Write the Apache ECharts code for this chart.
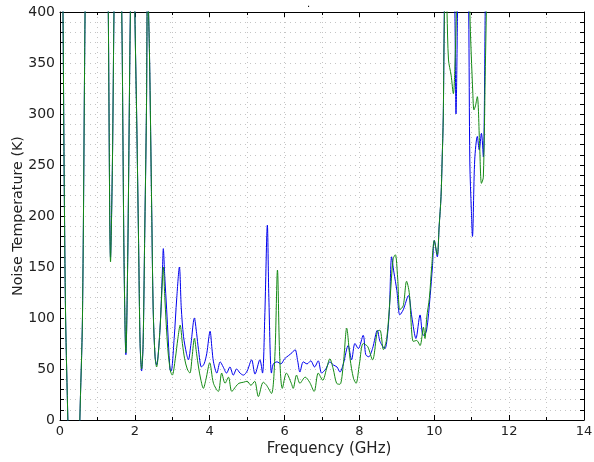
<!DOCTYPE html>
<html>
<head>
<meta charset="utf-8">
<script src="https://cdn.jsdelivr.net/npm/echarts@6/dist/echarts.min.js"></script>
<style>html,body{margin:0;padding:0;background:#fff}#c{width:594px;height:462px}</style>
</head>
<body>
<div id="c"></div>
<script>
// Frequency (GHz) and noise temperature (K)
const blueFreq = [0.00,0.08,0.11,0.15,0.21,0.30,0.45,0.53,0.60,0.67,0.80,1.00,1.20,1.29,1.35,1.40,1.45,1.55,1.65,1.71,1.76,1.81,1.88,1.95,2.00,2.05,2.10,2.14,2.18,2.22,2.26,2.31,2.34,2.39,2.45,2.49,2.54,2.58,2.67,2.74,2.76,2.80,2.85,2.94,2.97,3.05,3.12,3.19,3.24,3.30,3.38,3.43,3.50,3.59,3.65,3.70,3.78,3.85,3.92,4.01,4.06,4.10,4.19,4.28,4.36,4.45,4.54,4.63,4.72,4.81,4.90,5.00,5.12,5.21,5.34,5.41,5.47,5.54,5.58,5.65,5.70,5.80,5.90,6.00,6.10,6.20,6.28,6.35,6.41,6.50,6.60,6.70,6.80,6.90,6.99,7.10,7.21,7.30,7.40,7.48,7.57,7.70,7.79,7.88,7.97,8.10,8.17,8.25,8.35,8.48,8.55,8.68,8.74,8.80,8.86,8.92,9.00,9.08,9.17,9.31,9.40,9.51,9.62,9.70,9.79,9.89,9.95,10.00,10.08,10.13,10.18,10.21,10.24,10.26,10.30,10.40,10.50,10.55,10.58,10.62,10.70,10.85,10.92,10.95,10.99,11.02,11.08,11.15,11.20,11.26,11.31,11.36,11.42];
const blueTemp = [700,400,245,100,0,-150,-150,0,100,400,800,900,700,400,159,250,420,600,400,160,64,160,400,550,400,294,173,75,48,74,173,304,430,360,206,108,62,54,88,150,168,140,108,49,48,80,120,150,110,82,65,59,75,100,85,69,52,55,65,87,70,57,46,57,52,46,52,44,50,46,44,48,59,45,59,46,100,191,120,46,55,57,55,60,63,66,69,58,47,57,55,58,52,58,46,50,57,54,52,47,55,73,59,75,70,83,64,62,70,88,77,70,80,108,160,145,127,103,108,122,101,80,103,83,87,122,150,176,160,190,219,255,297,369,500,600,500,400,300,400,700,600,400,252,206,180,255,278,265,281,258,400,600];

const greenFreq = [0.00,0.08,0.11,0.15,0.21,0.30,0.45,0.53,0.60,0.67,0.80,1.00,1.20,1.29,1.35,1.40,1.45,1.55,1.65,1.71,1.76,1.81,1.88,1.95,2.00,2.05,2.10,2.14,2.18,2.22,2.26,2.31,2.34,2.39,2.45,2.49,2.54,2.58,2.67,2.74,2.76,2.80,2.88,2.95,3.00,3.08,3.15,3.21,3.27,3.33,3.40,3.47,3.53,3.59,3.65,3.70,3.76,3.83,3.90,4.00,4.10,4.23,4.32,4.41,4.50,4.59,4.70,4.78,4.90,5.00,5.10,5.20,5.30,5.43,5.52,5.65,5.74,5.81,5.87,5.94,6.05,6.18,6.23,6.32,6.41,6.55,6.67,6.79,6.90,7.02,7.12,7.21,7.30,7.39,7.48,7.57,7.66,7.75,7.84,7.91,8.00,8.10,8.22,8.35,8.48,8.55,8.64,8.73,8.82,8.90,8.96,9.02,9.08,9.17,9.26,9.33,9.44,9.53,9.62,9.71,9.75,9.80,9.87,9.93,10.00,10.08,10.13,10.18,10.21,10.24,10.26,10.30,10.34,10.38,10.45,10.51,10.55,10.60,10.70,10.85,10.95,11.03,11.06,11.10,11.15,11.21,11.26,11.31,11.36,11.40,11.48];
const greenTemp = [700,400,245,100,0,-150,-150,0,100,400,800,900,700,400,155,250,420,600,400,160,66,160,400,550,400,294,173,75,50,74,173,304,430,360,206,108,62,52,88,140,150,120,70,48,44,60,80,93,75,60,50,46,62,80,65,52,40,31,40,56,36,28,46,36,42,28,33,36,37,38,34,38,23,37,34,26,62,147,62,31,46,36,31,44,36,42,37,28,46,39,50,60,50,36,35,55,90,60,41,36,55,75,72,59,87,88,69,80,120,158,162,140,108,112,136,125,77,78,73,91,80,101,120,150,176,162,190,219,255,297,369,450,400,353,338,320,345,420,700,600,400,320,304,308,317,271,232,238,337,420,600];

const xTicks = [0,2,4,6,8,10,12,14];
const yTicks = [0,50,100,150,200,250,300,350,400];

function pairs(f, t){ return f.map((v,i)=>[v,t[i]]); }

const chart = echarts.init(document.getElementById('c'), null, {renderer:'canvas'});
const font = 'DejaVu Sans';
const gridDots = {show:true, lineStyle:{color:'#c4c4c4', type:[1,4], width:1}};
const baseX = {
  type:'value', min:xTicks[0], max:xTicks[xTicks.length-1], interval:2,
  axisLine:{show:true, onZero:false, lineStyle:{color:'#000', width:1}},
  axisTick:{show:true, inside:true, length:5, lineStyle:{color:'#000'}},
  minorTick:{show:true, splitNumber:2, length:3, lineStyle:{color:'#000'}},
};
const baseY = {
  type:'value', min:yTicks[0], max:yTicks[yTicks.length-1], interval:50,
  axisLine:{show:true, onZero:false, lineStyle:{color:'#000', width:1}},
  axisTick:{show:true, inside:true, length:4, lineStyle:{color:'#000'}},
  minorTick:{show:true, splitNumber:5, length:4, lineStyle:{color:'#000'}},
};
chart.setOption({
  animation:false,
  backgroundColor:'#fff',
  title:{text:'.', left:302, top:-6, textStyle:{fontFamily:font, fontSize:10, color:'#000', fontWeight:'normal'}},
  grid:{left:60, right:10, top:12, bottom:42, containLabel:false, outerBoundsMode:'none'},
  xAxis:[
    Object.assign({}, baseX, {
      position:'bottom',
      name:'Frequency (GHz)', nameLocation:'middle', nameGap:22, nameMoveOverlap:false,
      nameTextStyle:{fontFamily:font, fontSize:15, color:'#222', padding:[0,0,0,14]},
      axisLabel:{show:true, margin:5, fontFamily:font, fontSize:13, color:'#222'},
      splitLine:gridDots, minorSplitLine:gridDots
    }),
    Object.assign({}, baseX, {position:'top', axisLabel:{show:false}, splitLine:{show:false}})
  ],
  yAxis:[
    Object.assign({}, baseY, {
      position:'left',
      name:'Noise Temperature (K)', nameLocation:'middle', nameGap:35, nameMoveOverlap:false,
      nameTextStyle:{fontFamily:font, fontSize:14.3, color:'#222'},
      axisLabel:{show:true, margin:5, fontFamily:font, fontSize:14, color:'#222'},
      splitLine:gridDots, minorSplitLine:gridDots
    }),
    Object.assign({}, baseY, {position:'right', axisLabel:{show:false}, splitLine:{show:false}})
  ],
  series:[
    {type:'line', name:'blue', data:pairs(blueFreq, blueTemp), showSymbol:false, symbol:'none', smooth:0.3, clip:true,
     lineStyle:{color:'#0000ee', width:1}, xAxisIndex:0, yAxisIndex:0, z:2},
    {type:'line', name:'green', data:pairs(greenFreq, greenTemp), showSymbol:false, symbol:'none', smooth:0.3, clip:true,
     lineStyle:{color:'#148a14', width:1}, xAxisIndex:0, yAxisIndex:0, z:3}
  ]
});
</script>
</body>
</html>
